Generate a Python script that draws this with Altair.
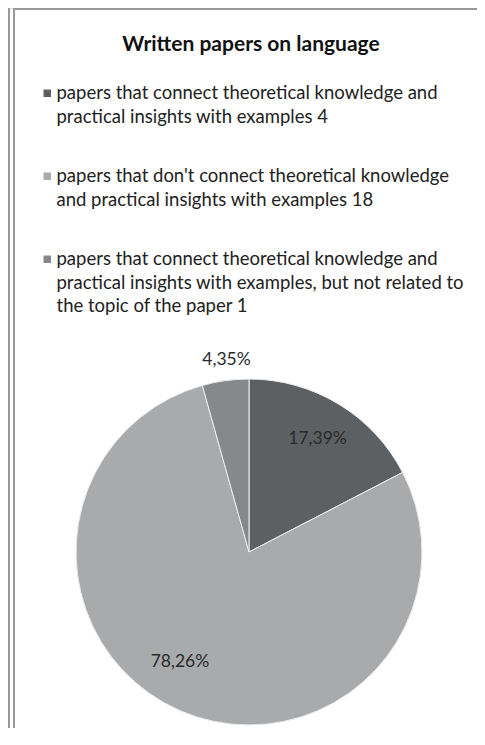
import altair as alt
import pandas as pd

# ---- data ----
legend_lines = [
    ["papers that connect theoretical knowledge and",
     "practical insights with examples"],
    ["papers that don't connect theoretical knowledge",
     "and practical insights with examples"],
    ["papers that connect theoretical knowledge and",
     "practical insights with examples, but not related to",
     "the topic of the paper"],
]
counts = [4, 18, 1]
slice_colors = ["#5d6063", "#a8aaac", "#86898b"]
chart_title = "Written papers on language"

labels = ["|".join(lines) + " " + str(c) for lines, c in zip(legend_lines, counts)]
df = pd.DataFrame({"label": labels, "value": counts, "order": list(range(len(counts)))})

W, H = 469, 720
CX, CY, R = 241, 544, 173
FONT = "Lato"

base = alt.Chart(df).transform_joinaggregate(
    total="sum(value)"
).transform_calculate(
    pct="replace(format(datum.value / datum.total, '.2%'), '.', ',')"
)

theta = alt.Theta("value:Q", stack=True)
order = alt.Order("order:Q", sort="ascending")

arcs = base.mark_arc(radius=R, stroke="#eeeeee", strokeWidth=1).encode(
    theta=theta,
    order=order,
    x=alt.value(CX),
    y=alt.value(CY),
    color=alt.Color(
        "label:N",
        scale=alt.Scale(domain=labels, range=slice_colors),
        legend=alt.Legend(
            orient="none", legendX=30, legendY=76, direction="vertical",
            title=None, symbolType="square", symbolSize=56, symbolStrokeWidth=0,
            labelFont=FONT, labelFontSize=18.5, labelColor="#222222", labelLimit=460,
            labelBaseline="top", labelOffset=0, rowPadding=40, padding=0,
            labelExpr="split(datum.label, '|')",
        ),
    ),
)


def pie_label(idx, radius, theta_offset=0.0):
    return base.transform_calculate(
        txt=f"datum.order == {idx} ? datum.pct : ''"
    ).mark_text(
        radius=radius, thetaOffset=theta_offset, font=FONT, fontSize=17.5,
        color="#2a2a2a", baseline="middle", align="center"
    ).encode(
        theta=theta, order=order, x=alt.value(CX), y=alt.value(CY), text="txt:N"
    )


lab1 = pie_label(0, 132)
lab2 = pie_label(1, 130, 0.15)
lab3 = pie_label(2, 193, 0.02)

one = alt.Data(values=[{"k": 1}])
line_color = "#999999"
rule_outer = alt.Chart(one).mark_rule(color=line_color, strokeWidth=2).encode(
    x=alt.value(1), y=alt.value(0), y2=alt.value(H)
)
rule_inner = alt.Chart(one).mark_rule(color=line_color, strokeWidth=2).encode(
    x=alt.value(6), y=alt.value(0), y2=alt.value(H)
)
rule_top = alt.Chart(one).mark_rule(color=line_color, strokeWidth=2).encode(
    x=alt.value(5), x2=alt.value(W), y=alt.value(1)
)

title = alt.Chart(one).mark_text(
    font=FONT, fontSize=21, fontWeight="bold", color="#111111",
    align="center", baseline="middle"
).encode(x=alt.value(243), y=alt.value(37), text=alt.value(chart_title))

chart = alt.layer(
    rule_outer, rule_inner, rule_top, arcs, lab1, lab2, lab3, title
).properties(
    width=W, height=H, padding=0,
    autosize=alt.AutoSizeParams(type="none"),
).configure_view(stroke=None).configure(
    style={"guide-label": {"dy": -9, "lineHeight": 23.5}}
)

chart.save("out.html", embed_options={"renderer": "svg", "actions": False})
